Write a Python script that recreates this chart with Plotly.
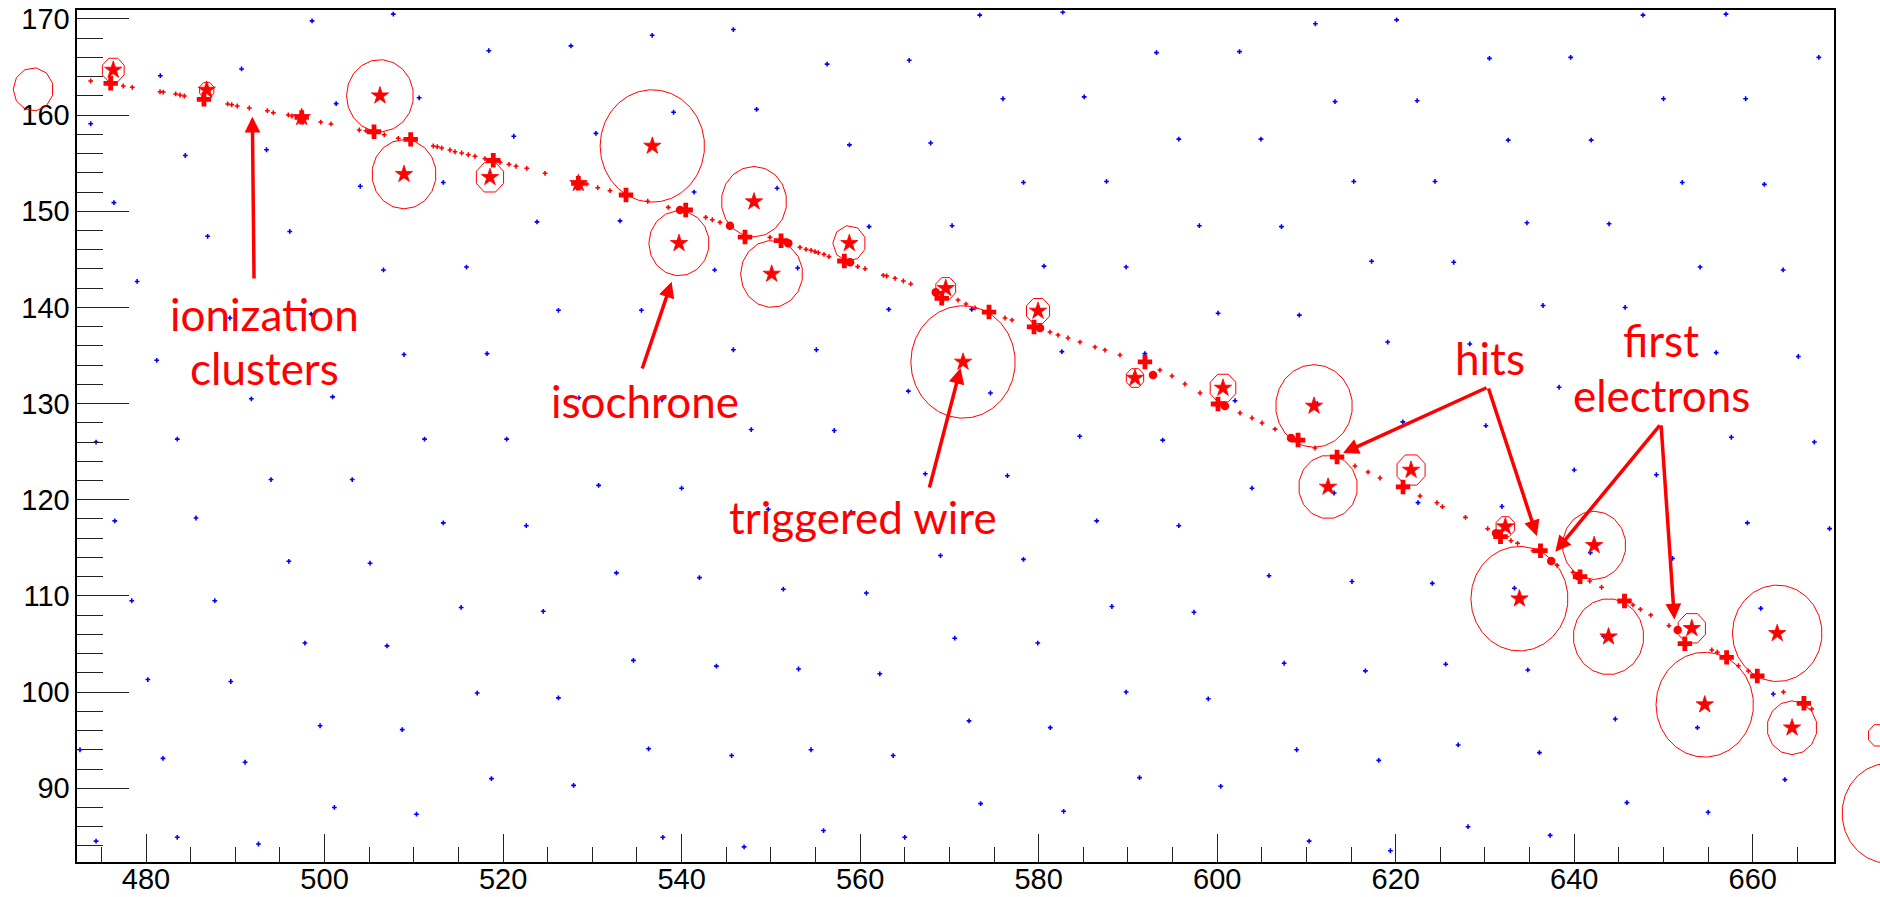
import numpy as np
import plotly.graph_objects as go

# ---------------------------------------------------------------- data
# sense-wire positions in this slice (blue)
wire_x = [
    472.6, 474.4,
    474.4, 476.5, 478.4, 480.2, 481.9, 483.5,
    473.8, 476.4, 479.0, 481.2, 483.5, 485.6, 487.7, 489.5, 491.1, 492.6,
    481.6, 484.4, 486.9, 489.4, 491.8, 494.0, 496.0, 497.8, 499.5, 501.1,
    490.7, 493.5, 496.1, 498.5, 500.9, 503.1, 505.1, 507.0, 508.7, 510.3,
    498.6, 501.3, 504.0, 506.6, 508.9, 511.2, 513.3, 515.3, 517.1, 518.7,
    507.7, 510.6, 513.3, 515.9, 518.2, 520.4, 522.6, 524.5, 526.2, 527.9,
    518.4, 521.2, 523.8, 526.2, 528.5, 530.7, 532.7, 534.6, 536.3, 537.9,
    527.6, 530.4, 533.1, 535.5, 537.8, 540.0, 542.0, 543.9, 545.6, 547.0,
    536.7, 539.1, 541.4, 543.7, 545.8, 547.8, 549.7, 551.4, 553.1, 554.5, 555.9,
    545.8, 548.4, 550.7, 553.0, 555.1, 557.1, 559.0, 560.7, 562.2, 563.7, 565.0,
    556.3, 558.8, 561.0, 563.2, 565.4, 567.3, 569.0, 570.6, 572.2, 573.5,
    565.5, 567.9, 570.3, 572.5, 574.6, 576.5, 578.3, 579.9, 581.3, 582.8,
    573.4, 576.0, 578.3, 580.6, 582.6, 584.6, 586.5, 588.2, 589.8, 591.3,
    582.7, 585.1, 587.6, 589.8, 591.9, 593.9, 595.7, 597.4, 599.0, 600.4,
    593.2, 595.7, 598.0, 600.1, 602.0, 603.9, 605.8, 607.5, 608.9, 610.3,
    602.5, 604.9, 607.2, 609.2, 611.2, 613.1, 615.1, 616.6, 618.1, 619.4,
    611.0, 613.2, 615.3, 617.3, 619.1, 620.8, 622.5, 624.1, 625.6, 627.0, 628.1,
    620.1, 622.4, 624.4, 626.5, 628.3, 630.1, 631.9, 633.3, 634.8, 636.1, 637.3,
    630.5, 632.6, 634.7, 636.5, 638.3, 640.0, 641.8, 643.3, 644.6, 645.9,
    639.6, 641.9, 643.9, 645.7, 647.4, 649.2, 651.0, 652.4, 653.8, 655.0,
    647.7, 650.0, 652.1, 654.1, 655.9, 657.6, 659.4, 660.9, 662.3, 663.6,
    657.0, 659.2, 661.3, 663.4, 665.1, 666.9, 668.6,
    667.4,
]
wire_y = [
    94.0, 84.5,
    126.0, 117.8, 109.5, 101.3, 93.1, 84.9,
    159.1, 150.9, 142.7, 134.5, 126.3, 118.1, 109.5, 101.1, 92.7, 84.2,
    164.1, 155.8, 147.4, 138.9, 130.5, 122.1, 113.6, 105.1, 96.5, 88.0,
    164.8, 156.4, 147.9, 139.3, 130.7, 122.1, 113.4, 104.8, 96.1, 87.3,
    169.8, 161.2, 152.6, 143.9, 135.1, 126.3, 117.6, 108.8, 99.9, 91.0,
    170.5, 161.8, 153.0, 144.2, 135.2, 126.3, 117.3, 108.4, 99.4, 90.3,
    166.7, 157.8, 148.9, 139.7, 130.6, 121.5, 112.4, 103.3, 94.1, 84.9,
    167.2, 158.1, 149.0, 139.7, 130.4, 121.2, 111.9, 102.7, 93.4, 83.9,
    168.3, 160.3, 152.0, 143.9, 135.6, 127.3, 119.0, 110.7, 102.4, 94.0, 85.6,
    168.9, 160.6, 152.4, 144.1, 135.6, 127.2, 118.7, 110.3, 101.9, 93.4, 84.9,
    165.3, 156.9, 148.4, 139.8, 131.3, 122.7, 114.2, 105.6, 97.0, 88.4,
    165.7, 157.1, 148.5, 139.8, 131.1, 122.5, 113.8, 105.1, 96.3, 87.6,
    170.4, 161.7, 153.0, 144.3, 135.4, 126.6, 117.8, 108.9, 100.0, 91.1,
    170.7, 161.9, 153.1, 144.2, 135.2, 126.2, 117.3, 108.3, 99.3, 90.2,
    166.5, 157.5, 148.5, 139.4, 130.3, 121.2, 112.1, 103.0, 94.0, 84.5,
    166.6, 157.5, 148.4, 139.2, 130.0, 120.7, 111.5, 102.2, 92.9, 83.5,
    169.5, 161.4, 153.1, 144.8, 136.4, 128.1, 119.7, 111.3, 102.9, 94.5, 86.0,
    169.9, 161.5, 153.1, 144.7, 136.2, 127.7, 119.3, 110.8, 102.3, 93.7, 85.1,
    165.9, 157.4, 148.8, 140.2, 131.7, 123.1, 114.5, 105.8, 97.2, 88.5,
    166.0, 157.4, 148.7, 140.0, 131.3, 122.6, 113.9, 105.1, 96.3, 87.5,
    170.4, 161.7, 153.0, 144.2, 135.3, 126.5, 117.6, 108.7, 99.8, 90.9,
    170.5, 161.7, 152.8, 143.9, 134.9, 126.0, 117.0,
    166.0,
]

# ionization clusters along the track
cluster_x = [
    473.80, 477.45, 478.46, 481.57, 481.93, 483.32, 483.81, 484.29, 489.15, 489.60,
    490.22, 491.57, 493.59, 494.26, 495.94, 496.35, 499.57, 500.72, 503.89, 504.64,
    506.69, 508.26, 512.18, 512.63, 513.12, 514.05, 514.61, 515.36, 516.10, 516.85,
    517.97, 519.66, 520.66, 521.45, 522.65, 524.70, 529.37, 530.60, 531.98, 536.20,
    538.51, 542.70, 543.44, 544.30, 549.90, 553.26, 553.94, 554.50, 554.94, 555.31,
    555.95, 556.51, 559.73, 560.55, 562.60, 562.98, 563.91, 564.84, 565.67, 570.97,
    571.86, 572.87, 576.23, 577.01, 581.27, 582.17, 583.29, 584.63, 586.31, 587.43,
    589.11, 593.59, 594.94, 596.39, 598.08, 602.56, 603.90, 605.02, 606.48, 610.96,
    615.44, 616.90, 618.24, 622.72, 624.62, 625.23, 627.81, 630.30, 632.91, 633.65,
    635.38, 638.08, 639.86, 641.74, 643.06, 646.58, 647.41, 648.57, 650.61, 655.41,
    656.03, 658.39, 659.51, 663.44, 666.60,
]
cluster_y = [
    163.55, 163.03, 162.89, 162.43, 162.40, 162.20, 162.09, 161.99, 161.16, 161.08,
    160.95, 160.74, 160.46, 160.25, 160.01, 159.91, 159.28, 159.08, 158.45, 158.38,
    157.96, 157.59, 156.79, 156.71, 156.58, 156.37, 156.19, 156.06, 155.88, 155.72,
    155.47, 155.09, 154.88, 154.68, 154.47, 153.95, 152.84, 152.45, 152.14, 151.04,
    150.41, 149.37, 149.12, 148.85, 147.29, 146.25, 146.04, 145.94, 145.80, 145.69,
    145.52, 145.28, 144.24, 144.03, 143.34, 143.27, 143.03, 142.75, 142.44, 140.77,
    140.35, 139.94, 138.90, 138.69, 137.44, 137.13, 136.82, 136.40, 135.88, 135.57,
    135.05, 133.49, 132.87, 132.04, 131.10, 129.02, 128.50, 127.98, 127.35, 125.38,
    123.51, 122.88, 122.26, 120.39, 119.69, 119.28, 118.17, 116.99, 115.74, 115.47,
    114.70, 113.18, 112.46, 111.55, 110.90, 109.06, 108.61, 108.01, 106.90, 104.38,
    104.14, 102.74, 102.19, 100.01, 98.24,
]

# reconstructed hits (closest track point to each fired wire)
hit_x = [476.04, 486.49, 497.44, 505.54, 509.65, 518.90, 528.43, 533.77, 540.46, 547.10,
         551.14, 558.23, 569.14, 574.44, 579.48, 591.91, 600.09, 609.06, 613.43, 620.82,
         631.74, 636.22, 640.65, 645.63, 652.39, 657.07, 660.51, 665.73]
hit_y = [163.31, 161.64, 159.77, 158.27, 157.48, 155.30, 152.91, 151.69, 150.13, 147.32,
         146.94, 144.83, 140.95, 139.52, 137.97, 134.33, 129.96, 126.21, 124.45, 121.33,
         116.16, 114.70, 112.00, 109.47, 105.03, 103.61, 101.67, 98.83]

# first drift electrons reaching a wire
electron_x = [539.82, 545.42, 551.95, 558.87, 568.47, 580.15, 592.81, 600.87, 608.27,
              631.24, 637.42, 640.40, 651.59]
electron_y = [150.13, 148.50, 146.67, 144.69, 141.57, 137.86, 132.97, 129.75, 126.42,
              116.51, 113.63, 112.07, 106.46]

# fired wires and isochrone radii
fired_x = [467.37, 476.33, 486.80, 497.44, 506.21, 508.90, 518.53, 528.43, 536.72, 539.71,
           548.11, 550.09, 558.79, 569.59, 571.53, 579.93, 590.79, 600.65, 610.85, 612.42,
           621.72, 632.28, 633.86, 642.23, 643.84, 653.17, 654.62, 662.74, 664.40, 674.08,
           675.20]
fired_y = [162.68, 164.69, 162.61, 159.77, 162.02, 153.85, 153.53, 152.91, 156.79, 146.67,
           151.00, 143.48, 146.67, 141.99, 134.33, 139.63, 132.66, 131.62, 129.75, 121.33,
           123.09, 117.20, 109.71, 115.26, 105.76, 106.63, 98.69, 106.11, 96.29, 95.50,
           87.39]
fired_r = [2.25, 1.32, 0.86, 0.20, 3.75, 3.60, 1.65, 0.20, 5.85, 3.38,
           3.66, 3.48, 1.85, 1.20, 5.85, 1.40, 1.05, 1.55, 4.30, 3.30,
           1.70, 1.12, 5.44, 3.55, 3.95, 1.65, 5.46, 5.02, 2.80, 1.20,
           5.20]

X_RANGE = [472.3, 669.1]
Y_RANGE = [82.36, 170.9]
X_TICKS = [480, 500, 520, 540, 560, 580, 600, 620, 640, 660]
Y_TICKS = [90, 100, 110, 120, 130, 140, 150, 160, 170]

# ---------------------------------------------------------------- layout helpers
W, H = 1880, 897
X_DOM = [77.3 / W, 1834.0 / W]
Y_DOM = [1 - 861.7 / H, 1 - 10.3 / H]


def full_range(rng, dom):
    """Range of an axis spanning the whole canvas with the same scale as rng over dom."""
    span = (rng[1] - rng[0]) / (dom[1] - dom[0])
    return [rng[0] - dom[0] * span, rng[1] + (1 - dom[1]) * span]


RED = "#ff0000"
BLUE = "#0000ff"

fig = go.Figure()

fig.add_trace(go.Scatter(x=wire_x, y=wire_y, mode="markers",
                         marker=dict(symbol="cross", size=4, color=BLUE, line_width=0),
                         hoverinfo="skip"))

fig.add_trace(go.Scatter(x=cluster_x, y=cluster_y, mode="markers",
                         marker=dict(symbol="cross", size=4, color=RED, line_width=0),
                         hoverinfo="skip"))

# isochrones: drawn as polygons on a canvas-wide axis pair so that they are not
# cut at the frame
cx, cy = [], []
for x0, y0, r in zip(fired_x, fired_y, fired_r):
    n = max(8, int(round(5 * r)))
    t = np.linspace(0, 2 * np.pi, n + 1) + np.pi / n
    cx += list(x0 + r * np.cos(t)) + [None]
    cy += list(y0 + r * np.sin(t)) + [None]
fig.add_trace(go.Scatter(x=cx, y=cy, mode="lines", xaxis="x2", yaxis="y2",
                         line=dict(color=RED, width=1), hoverinfo="skip"))

fig.add_trace(go.Scatter(x=fired_x, y=fired_y, mode="markers",
                         marker=dict(symbol="star", size=13, color=RED,
                                     line=dict(color=RED, width=0.8)),
                         hoverinfo="skip"))
fig.add_trace(go.Scatter(x=electron_x, y=electron_y, mode="markers",
                         marker=dict(symbol="circle", size=8.5, color=RED, line_width=0),
                         hoverinfo="skip"))
fig.add_trace(go.Scatter(x=hit_x, y=hit_y, mode="markers",
                         marker=dict(symbol="cross", size=12, color=RED, line_width=0),
                         hoverinfo="skip"))

tickfont = dict(family="Liberation Sans", size=29, color="black")
common = dict(showgrid=False, zeroline=False, showline=True, linecolor="black",
              linewidth=1.5, mirror=True, ticks="inside", tickcolor="#222222",
              tickwidth=1, tickfont=tickfont, automargin=False)

fig.update_layout(
    width=W, height=H,
    margin=dict(l=0, r=0, t=0, b=0, autoexpand=False),
    paper_bgcolor="white", plot_bgcolor="rgba(0,0,0,0)",
    showlegend=False,
    xaxis=dict(domain=X_DOM, range=X_RANGE, tickvals=X_TICKS, ticklen=28,
               ticklabelstandoff=-9,
               minor=dict(ticks="inside", ticklen=15, dtick=5, tick0=0,
                          tickcolor="#222222", tickwidth=1),
               anchor="y", **common),
    yaxis=dict(domain=Y_DOM, range=Y_RANGE, tickvals=Y_TICKS, ticklen=52,
               minor=dict(ticks="inside", ticklen=26, dtick=2, tick0=0,
                          tickcolor="#222222", tickwidth=1),
               anchor="x", **common),
    xaxis2=dict(domain=[0, 1], range=full_range(X_RANGE, X_DOM), visible=False,
                anchor="y2", fixedrange=True),
    yaxis2=dict(domain=[0, 1], range=full_range(Y_RANGE, Y_DOM), visible=False,
                anchor="x2", fixedrange=True),
)

# ---------------------------------------------------------------- labels
label_font = dict(family="Lato, Noto Sans, sans-serif", size=44, color=RED)
labels = [
    ("ionization", 493.3, 139.3),
    ("clusters", 493.3, 133.7),
    ("isochrone", 535.9, 130.3),
    ("triggered wire", 560.3, 118.2),
    ("hits", 630.6, 134.7),
    ("first", 649.7, 136.6),
    ("electrons", 649.8, 130.9),
]
for text, lx, ly in labels:
    fig.add_annotation(x=lx, y=ly, xref="x", yref="y", text=text, showarrow=False,
                       font=label_font, xanchor="center", yanchor="middle")

# arrows: (tail x, tail y, head x, head y)
arrows = [
    (492.10, 142.85, 491.91, 159.83),
    (535.53, 133.49, 538.89, 142.67),
    (567.72, 121.12, 571.25, 133.70),
    (630.34, 131.72, 614.10, 124.86),
    (630.34, 131.72, 635.81, 116.23),
    (649.72, 127.88, 637.88, 114.59),
    (649.72, 127.88, 651.22, 107.56),
]
for tx, ty, hx, hy in arrows:
    fig.add_annotation(x=hx, y=hy, ax=tx, ay=ty, xref="x", yref="y", axref="x", ayref="y",
                       text="", showarrow=True, arrowhead=2, arrowsize=0.9,
                       arrowwidth=3.5, arrowcolor=RED, standoff=0, startstandoff=0)

fig.write_html("out.html")
